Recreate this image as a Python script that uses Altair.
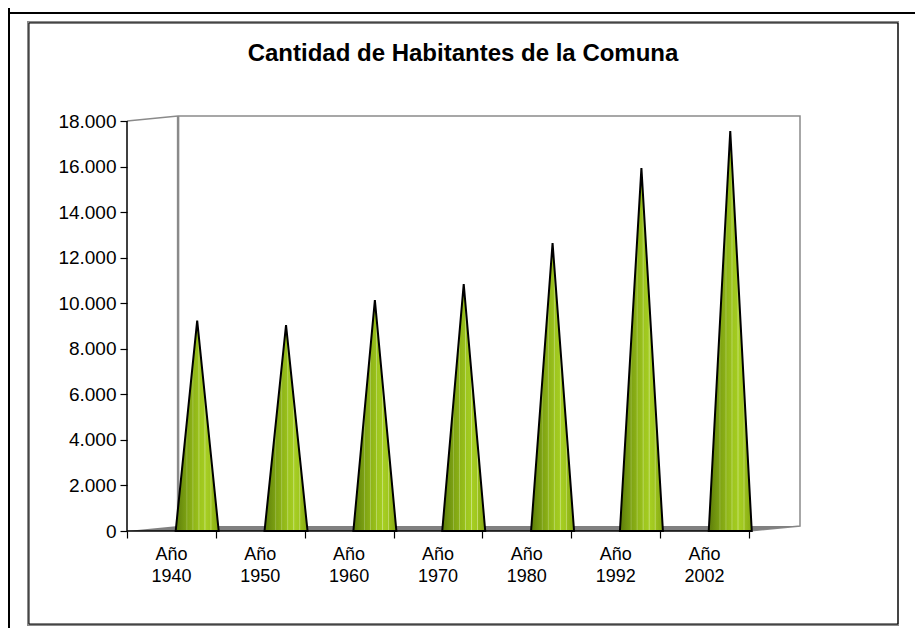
import altair as alt
import pandas as pd

labels = ["Año\n1940", "Año\n1950", "Año\n1960", "Año\n1970", "Año\n1980", "Año\n1992", "Año\n2002"]
values = [9240, 9040, 10140, 10840, 12640, 15930, 17560]
y_ticks = list(range(0, 18001, 2000))
x_ticks = list(range(0, 8))
title_text = "Cantidad de Habitantes de la Comuna"

DEPTH_X = 0.575
DEPTH_Y = 220
X_MAX = 7 + DEPTH_X
Y_MAX = 18000 + DEPTH_Y
CONE_OFFSET = 0.79
CONE_HALF = 0.242

stops = [
    (0.00, "#5c7c0a"), (0.12, "#6c8f0e"), (0.24, "#7a9f12"), (0.26, "#9ab848"), (0.28, "#80a513"),
    (0.38, "#8aaf16"), (0.40, "#aac958"), (0.42, "#90b618"), (0.52, "#98bf1b"),
    (0.54, "#bcd96a"), (0.56, "#9ec61e"), (0.66, "#a3cb20"), (0.68, "#c8e27c"), (0.70, "#a6ce22"),
    (0.80, "#a0c71f"), (0.82, "#c2dc6c"), (0.84, "#98be1a"), (1.00, "#84a812"),
]
grad = alt.Gradient(
    gradient="linear", x1=0, x2=1, y1=0, y2=0,
    stops=[alt.GradientStop(offset=o, color=c) for o, c in stops],
)

FONT = "Liberation Sans"
xs = alt.Scale(domain=[0, X_MAX], range=[0, 673], nice=False, zero=False)
ys = alt.Scale(domain=[0, Y_MAX], range=[415, 0], nice=False, zero=False)
x_axis = alt.Axis(
    values=x_ticks, title=None, grid=False, domain=False, labels=False,
    tickColor="#000000", tickSize=7, tickWidth=1.2,
)
y_axis = alt.Axis(
    values=y_ticks, title=None, grid=False, domain=False, tickColor="#000000", tickSize=7,
    tickWidth=1.2, labelFont=FONT, labelFontSize=19, labelColor="#000000", labelPadding=4,
    labelExpr="replace(format(datum.value, ','), ',', '.')",
)
X = lambda f: alt.X(f, scale=xs, axis=x_axis)
Y = lambda f: alt.Y(f, scale=ys, axis=y_axis)

one = alt.Data(values=[{"a": 1}])


def box(left, right, top, bottom, color, sw):
    return alt.Chart(one).mark_rect(fill="transparent", stroke=color, strokeWidth=sw).encode(
        x=alt.value(left), x2=alt.value(right), y=alt.value(top), y2=alt.value(bottom))


def rule(x, x2, y, y2, color, sw):
    return alt.Chart(one).mark_rule(color=color, strokeWidth=sw).encode(
        x=alt.value(x), x2=alt.value(x2), y=alt.value(y), y2=alt.value(y2))


def poly(px, py, color, sw):
    df = pd.DataFrame({"x": px, "y": py, "o": range(len(px))})
    return alt.Chart(df).mark_line(color=color, strokeWidth=sw).encode(
        x=X("x:Q"), y=Y("y:Q"), order="o:Q",
    )


layers = [
    rule(-118, 788, -103, -103, "#000000", 2),
    rule(-118, -118, -108, 514, "#000000", 2),
    box(-99, 771, -94, 509, "#8a8a8a", 2),
    box(-98, 771, -93, 508, "#000000", 1),
]

# back wall and side edges
layers.append(poly([0, DEPTH_X, X_MAX, X_MAX, 7], [18000, Y_MAX, Y_MAX, DEPTH_Y, 0], "#8a8a8a", 1.5))
layers.append(poly([DEPTH_X, DEPTH_X], [Y_MAX, DEPTH_Y], "#8a8a8a", 2.5))

# floor
floor = pd.DataFrame({
    "x": [0, DEPTH_X, 7, X_MAX],
    "y": [0, DEPTH_Y, DEPTH_Y, DEPTH_Y],
    "y2": [0, 0, 0, DEPTH_Y],
})
layers.append(alt.Chart(floor).mark_area(color="#808080").encode(
    x=X("x:Q"), y=Y("y:Q"), y2="y2:Q",
))

# axis lines
layers.append(poly([0, 0], [0, 18000], "#000000", 1.5))
layers.append(poly([0, 7], [0, 0], "#000000", 1.5))

# cones
for i, v in enumerate(values):
    c = i + CONE_OFFSET
    df = pd.DataFrame({
        "x": [c - CONE_HALF, c, c + CONE_HALF],
        "y": [0, v, 0],
        "y2": [0, 0, 0],
    })
    layers.append(alt.Chart(df).mark_area(
        fill=grad, stroke="#000000", strokeWidth=2, strokeJoin="miter", interpolate="linear",
    ).encode(x=X("x:Q"), y=Y("y:Q"), y2="y2:Q"))

# category labels
label_df = pd.DataFrame({"x": [i + 0.5 for i in range(len(labels))], "t": labels, "y": [0] * len(labels)})
layers.append(alt.Chart(label_df).mark_text(
    font=FONT, fontSize=18, color="#000000", lineBreak="\n", lineHeight=22,
    baseline="top", align="center", dy=15,
).encode(x=X("x:Q"), y=Y("y:Q"), text="t:N"))

# title
layers.append(alt.Chart(alt.Data(values=[{"t": title_text}])).mark_text(
    font=FONT, fontSize=24, fontWeight="bold", color="#000000", align="center", baseline="alphabetic",
).encode(x=alt.value(336), y=alt.value(-55), text="t:N"))

chart = alt.layer(*layers).properties(
    width=673,
    height=415,
    padding={"left": 119, "top": 108, "right": 115, "bottom": 97},
    autosize=alt.AutoSizeParams(type="none"),
    background="#ffffff",
).configure_view(stroke=None)

chart.save("out.html", embed_options={"renderer": "svg", "actions": False})
